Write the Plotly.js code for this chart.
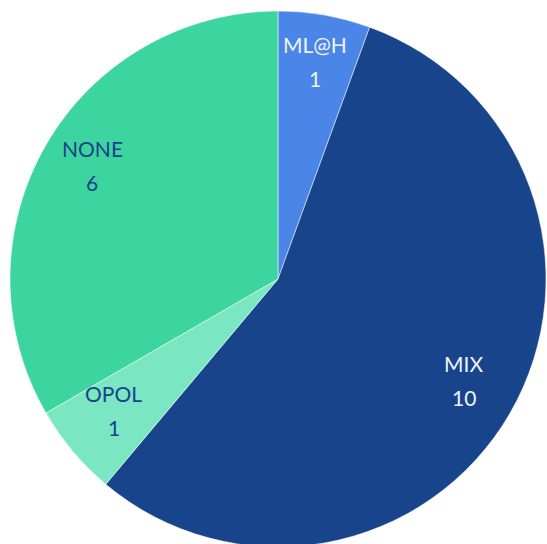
<!DOCTYPE html>
<html><head><meta charset="utf-8">
<script src="https://cdn.plot.ly/plotly-3.0.1.min.js"></script>
<style>html,body{margin:0;padding:0;overflow:hidden;background:#fff;}</style>
</head><body><div id="chart" style="width:547px;height:548px;"></div>
<script>
const labels = ["ML@H", "MIX", "OPOL", "NONE"];
const values = [1, 10, 1, 6];
const colors = ["#4a86e8", "#17448a", "#7ae6c2", "#3dd59f"];
const textColors = ["#eef3fb", "#eef3fb", "#17448a", "#17448a"];

const W = 547, H = 548;
const dom = {x: [10/W, 546/W], y: [0, 1 - 10/H]};
const cx = (dom.x[0] + dom.x[1]) / 2 * W;
const cy = (1 - (dom.y[0] + dom.y[1]) / 2) * H;
const R = Math.min((dom.x[1]-dom.x[0]) * W, (dom.y[1]-dom.y[0]) * H) / 2;
const total = values.reduce((a, b) => a + b, 0);
const labelFrac = 0.8;

const annotations = [];
let cum = 0;
values.forEach((v, i) => {
  const mid = (cum + v / 2) / total * 2 * Math.PI;
  cum += v;
  const px = cx + Math.sin(mid) * R * labelFrac;
  const py = cy - Math.cos(mid) * R * labelFrac - 6;
  const base = {xref: "paper", yref: "paper", x: px / W, y: 1 - py / H,
    showarrow: false, xanchor: "center", yanchor: "middle",
    font: {family: "Lato, sans-serif", size: 21, color: textColors[i]}};
  annotations.push(Object.assign({}, base, {text: labels[i], yshift: 17}));
  annotations.push(Object.assign({}, base, {text: String(v), yshift: -17}));
});

Plotly.newPlot("chart", [{
  type: "pie",
  labels: labels,
  values: values,
  sort: false,
  direction: "clockwise",
  rotation: 0,
  marker: {colors: colors, line: {color: "rgba(255,255,255,0.5)", width: 1}},
  textinfo: "none",
  domain: dom,
  showlegend: false,
  hoverinfo: "none"
}], {
  width: W, height: H,
  margin: {l: 0, r: 0, t: 0, b: 0},
  paper_bgcolor: "#ffffff",
  showlegend: false,
  annotations: annotations
}, {staticPlot: true});
</script></body></html>
